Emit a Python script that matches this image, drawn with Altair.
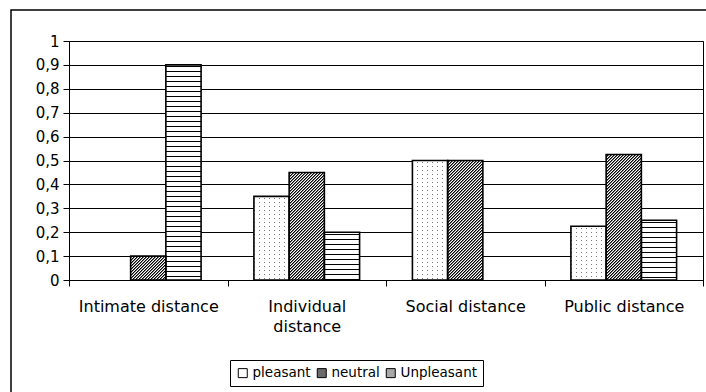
import altair as alt
import pandas as pd

# ---------------- data ----------------
CATEGORIES = ["Intimate distance", "Individual distance", "Social distance", "Public distance"]
SERIES = ["pleasant", "neutral", "Unpleasant"]
PLEASANT = [0.0, 0.35, 0.5, 0.225]
NEUTRAL = [0.1, 0.45, 0.5, 0.525]
UNPLEASANT = [0.9, 0.2, 0.0, 0.25]
Y_TICKS = [0, 0.1, 0.2, 0.3, 0.4, 0.5, 0.6, 0.7, 0.8, 0.9, 1]

VALUES = {"pleasant": PLEASANT, "neutral": NEUTRAL, "Unpleasant": UNPLEASANT}
rows = []
for i, cat in enumerate(CATEGORIES):
    for s in SERIES:
        rows.append({"category": cat, "series": s, "value": VALUES[s][i]})
df = pd.DataFrame(rows)

# ---------------- layout / style ----------------
PLOT_W, PLOT_H = 634, 239
PAD_LEFT, PAD_TOP = 69, 41
GROUP_PAD = 0.75
STEP = PLOT_W / len(CATEGORIES)
BW = STEP / (len(SERIES) + 2 * GROUP_PAD)
FONT = "DejaVu Sans"
CLEAR = "rgba(255,255,255,0)"


def band_stops(total, period, bands, start=0.0):
    """bands: list of (width, color) making up one period."""
    stops = []
    pos = start - period * (int(start / period) + 1)
    while pos < total:
        p = pos
        for width, color in bands:
            a = min(max(p, 0), total) / total
            b = min(max(p + width, 0), total) / total
            if b > a:
                stops.append({"offset": round(a, 6), "color": color})
                stops.append({"offset": round(b, 6), "color": color})
            p += width
        pos += period
    return stops


def bar_origin(i, j, v):
    x0 = PAD_LEFT + i * STEP + (GROUP_PAD + j) * BW
    y0 = PAD_TOP + (1 - v) * PLOT_H
    return x0, y0


def diag_hatch(i, j, v):
    w, h = BW, v * PLOT_H
    x0, y0 = bar_origin(i, j, v)
    L = (w * w + h * h) / (w + h)
    start = (1 - (x0 + y0) - 0.5) % 3.0
    bands = [(1.0, "#000000"), (1.0, "#7a7a7a"), (1.0, "#ffffff")]
    return alt.LinearGradient(gradient="linear",
                              stops=band_stops(w + h, 3.0, bands, start=start),
                              x1=0, y1=0, x2=w / L, y2=h / L)


def horiz_lines(v, period, dark, c_dark, c_light):
    h = v * PLOT_H
    top = PAD_TOP + (1 - v) * PLOT_H
    start = (1 - (top % 1)) % 1 + 1
    bands = [(dark, c_dark), (period - dark, c_light)]
    return alt.LinearGradient(gradient="linear",
                              stops=band_stops(h, period, bands, start=start),
                              x1=0, y1=0, x2=0, y2=1)


def vert_cols(w, period, gap, c_light, c_gap):
    bands = [(period - gap, c_light), (gap, c_gap)]
    return alt.LinearGradient(gradient="linear",
                              stops=band_stops(w, period, bands, start=1.0),
                              x1=0, y1=0, x2=1, y2=0)


x_enc = alt.X("category:N", sort=CATEGORIES,
              scale=alt.Scale(domain=CATEGORIES, paddingInner=0, paddingOuter=0),
              axis=alt.Axis(title=None, labelAngle=0, tickBand="extent", tickSize=6,
                            tickColor="black", domainColor="black", labelColor="black",
                            labelFont=FONT, labelFontSize=16, labelPadding=12,
                            labelLineHeight=20, labelLimit=300,
                            labelExpr="datum.label == 'Individual distance' ? ['Individual', 'distance'] : datum.label",
                            grid=False))
xo_enc = alt.XOffset("series:N", sort=SERIES,
                     scale=alt.Scale(domain=SERIES, paddingInner=0, paddingOuter=GROUP_PAD))
y_enc = alt.Y("value:Q",
              scale=alt.Scale(domain=[0, 1], nice=False, zero=True),
              axis=alt.Axis(title=None, values=Y_TICKS, format="~g",
                            labelExpr="replace(datum.label, '.', ',')",
                            grid=True, gridColor="black", gridWidth=1, gridOpacity=1,
                            tickSize=6, tickColor="black", domainColor="black",
                            labelColor="black", labelFont=FONT, labelFontSize=15,
                            labelPadding=4))

base = alt.Chart(df)

bars = base.mark_bar().encode(
    x=x_enc, xOffset=xo_enc, y=y_enc,
    fill=alt.Fill("series:N", sort=SERIES,
                  scale=alt.Scale(domain=SERIES, range=["#ffffff", "#6a6a6a", "#a8a8a8"]),
                  legend=alt.Legend(title=None, orient="none", legendX=161, legendY=319,
                                    direction="horizontal", symbolType="square",
                                    symbolSize=81, symbolStrokeColor="black",
                                    symbolStrokeWidth=1, labelFont=FONT, labelFontSize=13.5,
                                    labelColor="black", strokeColor="black",
                                    fillColor="white", padding=6, columnPadding=4,
                                    labelOffset=3)),
)

layers = [bars]


def sel(cat, s):
    return (alt.datum.category == cat) & (alt.datum.series == s)


for i, cat in enumerate(CATEGORIES):
    v = PLEASANT[i]
    if v > 0:
        layers.append(base.transform_filter(sel(cat, "pleasant")).mark_bar(
            fill=horiz_lines(v, 4.0, 1.0, "#7a7a7a", CLEAR)
        ).encode(x=x_enc, xOffset=xo_enc, y=y_enc))

layers.append(base.transform_filter((alt.datum.series == "pleasant") & (alt.datum.value > 0)).mark_bar(
    fill=vert_cols(BW, 5.0, 1.0, "#ffffff", CLEAR)
).encode(x=x_enc, xOffset=xo_enc, y=y_enc))

for i, cat in enumerate(CATEGORIES):
    v = NEUTRAL[i]
    if v > 0:
        layers.append(base.transform_filter(sel(cat, "neutral")).mark_bar(
            fill=diag_hatch(i, 1, v)
        ).encode(x=x_enc, xOffset=xo_enc, y=y_enc))
    v = UNPLEASANT[i]
    if v > 0:
        layers.append(base.transform_filter(sel(cat, "Unpleasant")).mark_bar(
            fill=horiz_lines(v, 5.0, 1.0, "#000000", "#ffffff")
        ).encode(x=x_enc, xOffset=xo_enc, y=y_enc))

outline = base.transform_filter(alt.datum.value > 0).mark_bar(
    fillOpacity=0, stroke="black", strokeWidth=1.6
).encode(x=x_enc, xOffset=xo_enc, y=y_enc)
layers.append(outline)

frame = alt.Chart(alt.Data(values=[{"f": 1}])).mark_rect(
    fillOpacity=0, stroke="black", strokeWidth=1.5
).encode(x=alt.value(-58), x2=alt.value(660), y=alt.value(-31), y2=alt.value(370))
layers.append(frame)

chart = alt.layer(*layers).properties(
    width=PLOT_W, height=PLOT_H,
    autosize=alt.AutoSizeParams(type="none"),
    padding={"left": PAD_LEFT, "top": PAD_TOP, "right": 3, "bottom": 112},
    background="white",
).configure_view(stroke="black", strokeWidth=1)

chart.save("out.html", embed_options={"renderer": "svg", "actions": False})
